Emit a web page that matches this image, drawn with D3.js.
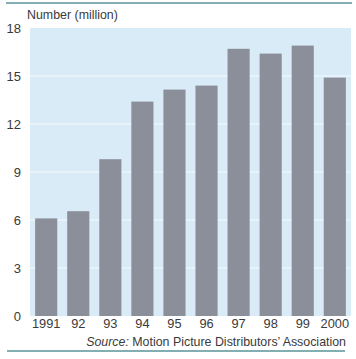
<!DOCTYPE html>
<html><head><meta charset="utf-8">
<script src="https://cdn.jsdelivr.net/npm/d3@7"></script>
<style>body{margin:0;background:#fff}svg{display:block}text{font-family:"Liberation Sans",Arial,sans-serif}</style>
</head><body>
<script>
const categories = ["1991","92","93","94","95","96","97","98","99","2000"];
const values = [6.1, 6.55, 9.8, 13.4, 14.15, 14.4, 16.7, 16.4, 16.9, 14.9];
const yTicks = [0,3,6,9,12,15,18];

(function(){
const W=356,H=359,FS=12.4;
const svg=d3.select("body").append("svg").attr("width",W).attr("height",H);
const mLeft=30,mRight=351,mTop=28,mBottom=316;
const x=d3.scaleBand().domain(categories).range([mLeft,mRight]).paddingInner(0.31).paddingOuter(0.16);
const y=d3.scaleLinear().domain([0,18]).range([mBottom,mTop]);

svg.append("rect").attr("x",mLeft).attr("y",mTop).attr("width",mRight-mLeft).attr("height",mBottom-mTop).attr("fill","#d9ebf7");
svg.selectAll(".grid").data(yTicks.filter(d=>d>0&&d<18)).enter().append("line")
 .attr("x1",mLeft).attr("x2",mRight).attr("y1",d=>y(d)).attr("y2",d=>y(d)).attr("stroke","#f4f9fd").attr("stroke-width",1);
svg.selectAll(".bar").data(values).enter().append("rect")
 .attr("x",(d,i)=>x(categories[i])).attr("width",x.bandwidth())
 .attr("y",d=>y(d)).attr("height",d=>y(0)-y(d)).attr("fill","#8b8f9a");

const yAxis=svg.append("g").attr("transform",`translate(${mLeft},0)`).call(d3.axisLeft(y).tickValues(yTicks).tickSize(0).tickPadding(9));
yAxis.select(".domain").remove();
yAxis.selectAll("text").attr("font-size",FS+0.6).attr("fill","#3a3a3a").attr("font-family","Liberation Sans, Arial, sans-serif");
const xAxis=svg.append("g").attr("transform",`translate(0,${mBottom})`).call(d3.axisBottom(x).tickSize(0).tickPadding(3));
xAxis.select(".domain").remove();
xAxis.selectAll("text").attr("font-size",FS+0.4).attr("fill","#3a3a3a").attr("font-family","Liberation Sans, Arial, sans-serif");

svg.append("text").attr("x",27).attr("y",19).attr("font-size",FS).attr("fill","#3a3a3a").text("Number (million)");
const src=svg.append("text").attr("x",346).attr("y",346).attr("text-anchor","end").attr("font-size",FS).attr("fill","#3a3a3a");
src.append("tspan").attr("font-style","italic").text("Source:");
src.append("tspan").text(" Motion Picture Distributors\u2019 Association");

svg.append("line").attr("x1",6).attr("x2",352).attr("y1",3).attr("y2",3).attr("stroke","#5a9598").attr("stroke-width",1.3);
svg.append("line").attr("x1",7).attr("x2",345).attr("y1",351).attr("y2",351).attr("stroke","#5a9598").attr("stroke-width",1.3);
})();
</script>
</body></html>
